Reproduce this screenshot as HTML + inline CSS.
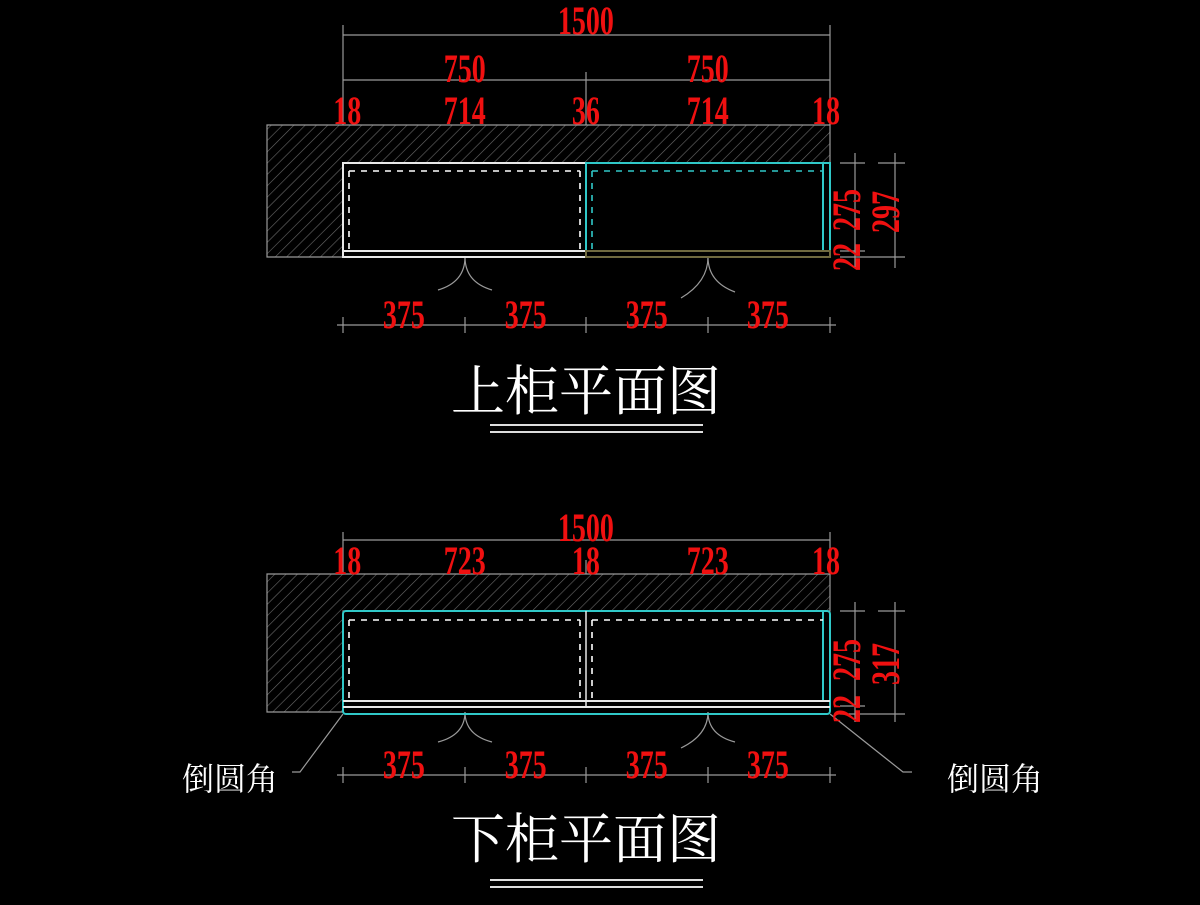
<!DOCTYPE html>
<html><head><meta charset="utf-8"><style>
html,body{margin:0;padding:0;background:#000;}
svg{display:block}
.d{font-family:"Liberation Serif",serif;font-size:40px;font-weight:bold;fill:#f01010;}
.t{font-family:"Liberation Serif","Noto Serif CJK SC",serif;fill:#fff;}
</style></head><body>
<svg width="1200" height="905" viewBox="0 0 1200 905" xmlns="http://www.w3.org/2000/svg">
<defs>
<pattern id="h" width="8" height="8" patternUnits="userSpaceOnUse" patternTransform="rotate(45)">
<rect width="8" height="8" fill="#000"/><line x1="0" y1="0" x2="0" y2="8" stroke="#6a6a6a" stroke-width="1.2"/>
</pattern>
</defs>
<rect width="1200" height="905" fill="#000"/>

<!-- ===== TOP PLAN ===== -->
<g stroke="#9a9a9a" stroke-width="1.2" fill="none">
<path d="M267 125 H830 V163 H343 V257 H267 Z" fill="url(#h)"/>
<line x1="343" y1="35" x2="830" y2="35"/>
<line x1="343" y1="80" x2="830" y2="80"/>
<line x1="343" y1="25" x2="343" y2="125"/><line x1="830" y1="25" x2="830" y2="125"/>
<line x1="586" y1="72" x2="586" y2="125"/>
<line x1="337" y1="325" x2="836" y2="325"/>
<line x1="343" y1="317" x2="343" y2="333"/><line x1="465" y1="317" x2="465" y2="333"/><line x1="586" y1="317" x2="586" y2="333"/><line x1="708" y1="317" x2="708" y2="333"/><line x1="830" y1="317" x2="830" y2="333"/>
<line x1="855" y1="153" x2="855" y2="268"/><line x1="895" y1="153" x2="895" y2="268"/>
<line x1="840" y1="163" x2="865" y2="163"/><line x1="878" y1="163" x2="905" y2="163"/>
<line x1="840" y1="251" x2="865" y2="251"/><line x1="840" y1="257" x2="905" y2="257"/>
<path d="M465 257 Q465 282 438 290"/><path d="M465 257 Q465 282 492 290"/>
<path d="M708 257 Q708 282 681 298"/><path d="M708 257 Q708 282 735 292"/>
</g>
<rect x="343" y="163" width="243" height="94" fill="none" stroke="#e8e8e8" stroke-width="2"/>
<line x1="343" y1="251" x2="586" y2="251" stroke="#e8e8e8" stroke-width="2"/>
<rect x="586" y="163" width="244" height="88" fill="none" stroke="#30c8c8" stroke-width="2"/>
<line x1="823" y1="163" x2="823" y2="251" stroke="#30c8c8" stroke-width="2"/>
<rect x="586" y="251" width="244" height="6" fill="none" stroke="#706a40" stroke-width="2"/>
<g fill="none" stroke-dasharray="6 6" stroke-width="1.6">
<path d="M349 171 H580 M349 171 V251 M580 171 V251" stroke="#fff"/>
<path d="M592 171 H823 M592 171 V251" stroke="#30c8c8"/>
</g>
<g transform="scale(0.7 1)">
<text class="d" x="837" y="34" text-anchor="middle">1500</text>
<text class="d" x="664" y="82" text-anchor="middle">750</text>
<text class="d" x="1011" y="82" text-anchor="middle">750</text>
<text class="d" x="496" y="124" text-anchor="middle">18</text>
<text class="d" x="664" y="124" text-anchor="middle">714</text>
<text class="d" x="837" y="124" text-anchor="middle">36</text>
<text class="d" x="1011" y="124" text-anchor="middle">714</text>
<text class="d" x="1180" y="124" text-anchor="middle">18</text>
<text class="d" x="577" y="328" text-anchor="middle">375</text>
<text class="d" x="751" y="328" text-anchor="middle">375</text>
<text class="d" x="924" y="328" text-anchor="middle">375</text>
<text class="d" x="1097" y="328" text-anchor="middle">375</text>
</g>
<text class="d" transform="translate(860 210) rotate(-90) scale(0.7 1)" text-anchor="middle">275</text>
<text class="d" transform="translate(860 257) rotate(-90) scale(0.7 1)" text-anchor="middle">22</text>
<text class="d" transform="translate(899 212) rotate(-90) scale(0.7 1)" text-anchor="middle">297</text>
<text class="t" x="586" y="410" font-size="54" text-anchor="middle">上柜平面图</text>
<line x1="490" y1="425" x2="703" y2="425" stroke="#ddd" stroke-width="2"/>
<line x1="490" y1="432" x2="703" y2="432" stroke="#ddd" stroke-width="2"/>

<!-- ===== BOTTOM PLAN ===== -->
<g stroke="#9a9a9a" stroke-width="1.2" fill="none">
<path d="M267 574 H830 V611 H343 V712 H267 Z" fill="url(#h)"/>
<line x1="343" y1="540" x2="830" y2="540"/>
<line x1="343" y1="532" x2="343" y2="574"/><line x1="830" y1="532" x2="830" y2="574"/><line x1="586" y1="560" x2="586" y2="574"/>
<line x1="337" y1="775" x2="836" y2="775"/>
<line x1="343" y1="767" x2="343" y2="783"/><line x1="465" y1="767" x2="465" y2="783"/><line x1="586" y1="767" x2="586" y2="783"/><line x1="708" y1="767" x2="708" y2="783"/><line x1="830" y1="767" x2="830" y2="783"/>
<line x1="855" y1="602" x2="855" y2="722"/><line x1="895" y1="602" x2="895" y2="722"/>
<line x1="840" y1="611" x2="865" y2="611"/><line x1="878" y1="611" x2="905" y2="611"/>
<line x1="840" y1="706" x2="865" y2="706"/><line x1="840" y1="714" x2="905" y2="714"/>
<path d="M465 712 Q465 735 438 742"/><path d="M465 712 Q465 735 492 742"/>
<path d="M708 712 Q708 735 681 748"/><path d="M708 712 Q708 735 735 742"/>
<path d="M343 714 L300 772 H292"/>
<path d="M830 714 L903 772 H912"/>
</g>
<rect x="343" y="611" width="487" height="103" rx="3" fill="none" stroke="#30c8c8" stroke-width="2"/>
<line x1="823" y1="611" x2="823" y2="701" stroke="#30c8c8" stroke-width="2"/>
<line x1="343" y1="701" x2="830" y2="701" stroke="#e8e8e8" stroke-width="2"/>
<line x1="343" y1="707" x2="830" y2="707" stroke="#e8e8e8" stroke-width="2"/>
<line x1="586" y1="611" x2="586" y2="707" stroke="#e8e8e8" stroke-width="1.5"/>
<g fill="none" stroke-dasharray="6 6" stroke-width="1.6" stroke="#fff">
<path d="M349 620 H580 M349 620 V701 M580 620 V701 M592 620 H823 M592 620 V701"/>
</g>
<g transform="scale(0.7 1)">
<text class="d" x="837" y="541" text-anchor="middle">1500</text>
<text class="d" x="496" y="574" text-anchor="middle">18</text>
<text class="d" x="664" y="574" text-anchor="middle">723</text>
<text class="d" x="837" y="574" text-anchor="middle">18</text>
<text class="d" x="1011" y="574" text-anchor="middle">723</text>
<text class="d" x="1180" y="574" text-anchor="middle">18</text>
<text class="d" x="577" y="778" text-anchor="middle">375</text>
<text class="d" x="751" y="778" text-anchor="middle">375</text>
<text class="d" x="924" y="778" text-anchor="middle">375</text>
<text class="d" x="1097" y="778" text-anchor="middle">375</text>
</g>
<text class="d" transform="translate(860 660) rotate(-90) scale(0.7 1)" text-anchor="middle">275</text>
<text class="d" transform="translate(860 709) rotate(-90) scale(0.7 1)" text-anchor="middle">22</text>
<text class="d" transform="translate(899 664) rotate(-90) scale(0.7 1)" text-anchor="middle">317</text>
<text class="t" x="230" y="790" font-size="32" text-anchor="middle">倒圆角</text>
<text class="t" x="995" y="790" font-size="32" text-anchor="middle">倒圆角</text>
<text class="t" x="586" y="858" font-size="54" text-anchor="middle">下柜平面图</text>
<line x1="490" y1="880" x2="703" y2="880" stroke="#ddd" stroke-width="2"/>
<line x1="490" y1="887" x2="703" y2="887" stroke="#ddd" stroke-width="2"/>
</svg>
</body></html>
